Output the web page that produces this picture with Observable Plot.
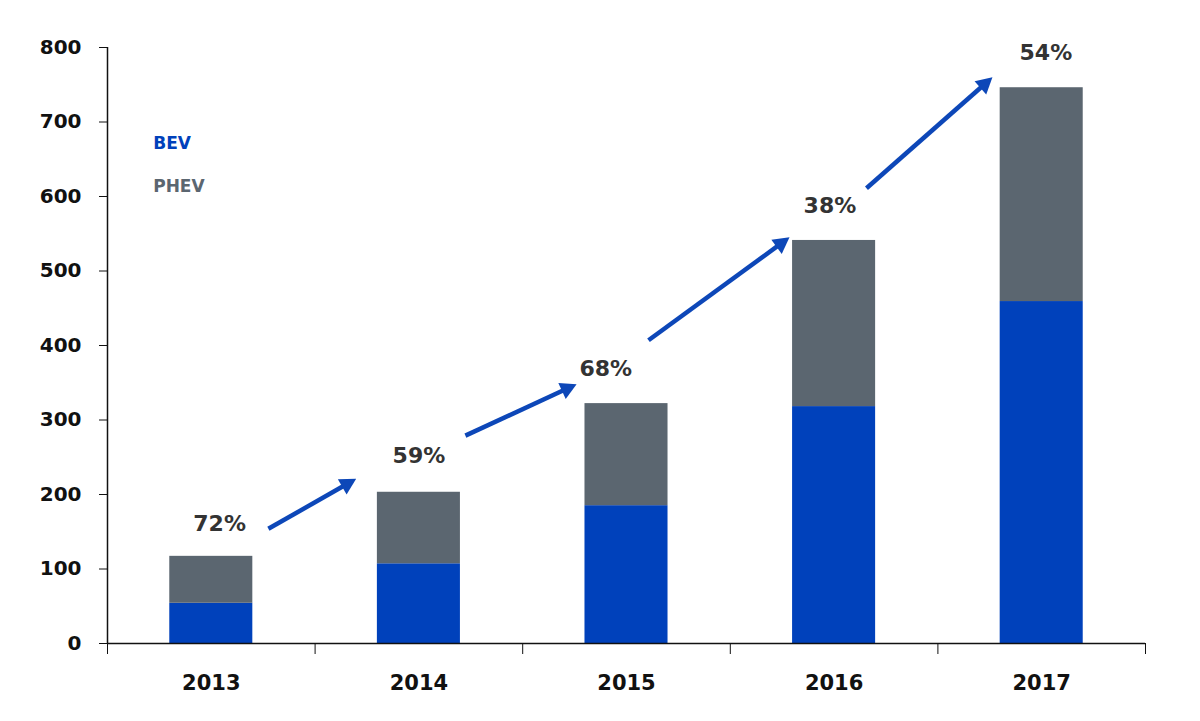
<!DOCTYPE html>
<html><head><meta charset="utf-8">
<script src="https://cdn.jsdelivr.net/npm/d3@7"></script>
<script src="https://cdn.jsdelivr.net/npm/@observablehq/plot@0.6"></script>
<style>body{margin:0;background:#fff;} #chart svg{display:block;}</style>
</head><body><div id="chart"></div>
<script>
const years = [2013, 2014, 2015, 2016, 2017];
const bev = [54, 107, 185, 318, 459];
const phev = [63, 96, 137, 223, 287];
const growthLabels = ["72%", "59%", "68%", "38%", "54%"];
const labelX = [2013.04, 2014.0, 2014.9, 2015.98, 2017.02];
const labelY = [161, 252, 369, 587, 793];
const arrowX1 = [2013.275, 2014.224, 2015.106, 2016.156];
const arrowY1 = [154, 279, 407, 611];
const arrowX2 = [2013.66, 2014.72, 2015.75, 2016.73];
const arrowY2 = [215, 343, 538, 752];
const yTicks = [0, 100, 200, 300, 400, 500, 600, 700, 800];
const series = ["BEV", "PHEV"];
const colors = ["#0041bb", "#5b6670"];

const rows = [];
years.forEach((y, i) => {
  rows.push({year: y, type: "BEV", y1: 0, y2: bev[i]});
  rows.push({year: y, type: "PHEV", y1: bev[i], y2: bev[i] + phev[i]});
});
const labels = growthLabels.map((t, i) => ({t, x: labelX[i], y: labelY[i]}));
const arrows = arrowX1.map((x, i) => ({x1: x, y1: arrowY1[i], x2: arrowX2[i], y2: arrowY2[i]}));
const legend = series.map((s, i) => ({s, x: 2012.72, y: [671, 613][i]}));
const bounds = [2012.5, 2013.5, 2014.5, 2015.5, 2016.5, 2017.5];
const font = "'DejaVu Sans', Verdana, sans-serif";

function triangleMarker(color) {
  const m = d3.create("svg:marker")
    .attr("viewBox", "-4 -4 8 8")
    .attr("markerWidth", 4.6).attr("markerHeight", 4.6)
    .attr("refX", 0.5).attr("refY", 0)
    .attr("orient", "auto")
    .attr("fill", color).attr("stroke", "none");
  m.append("path").attr("d", "M-2.2,-3.4L4,0L-2.2,3.4Z");
  return m.node();
}

const chart = Plot.plot({
  width: 1200, height: 721,
  marginLeft: 107, marginRight: 55, marginTop: 47, marginBottom: 78,
  style: {fontFamily: font, fontSize: "20px", fontWeight: "bold", color: "#111", background: "#fff"},
  x: {type: "linear", domain: [2012.5, 2017.5]},
  y: {domain: [0, 800]},
  color: {domain: series, range: colors},
  marks: [
    Plot.rect(rows, {x1: d => d.year - 0.2, x2: d => d.year + 0.2, y1: "y1", y2: "y2", fill: "type"}),
    Plot.ruleY([0], {stroke: "#111", strokeWidth: 1.5}),
    Plot.ruleX([2012.5], {stroke: "#111", strokeWidth: 1.5}),
    Plot.axisY({ticks: yTicks, tickSize: 8, tickPadding: 18, label: null, stroke: "#111", fontSize: 20}),
    Plot.axisX({ticks: bounds, tickSize: 11, tickFormat: () => "", label: null}),
    Plot.axisX({ticks: years, tickSize: 0, tickPadding: 32, tickFormat: d => String(d), label: null, fontSize: 21}),
    Plot.link(arrows, {x1: "x1", y1: "y1", x2: "x2", y2: "y2", stroke: "#0d47b8", strokeWidth: 4.5, markerEnd: triangleMarker}),
    Plot.text(labels, {x: "x", y: "y", text: "t", fill: "#333", fontSize: 22, fontWeight: "bold"}),
    Plot.text(legend, {x: "x", y: "y", text: "s", fill: d => d.s, textAnchor: "start", fontSize: 17, fontWeight: "bold"})
  ]
});
document.getElementById("chart").appendChild(chart);
</script></body></html>
